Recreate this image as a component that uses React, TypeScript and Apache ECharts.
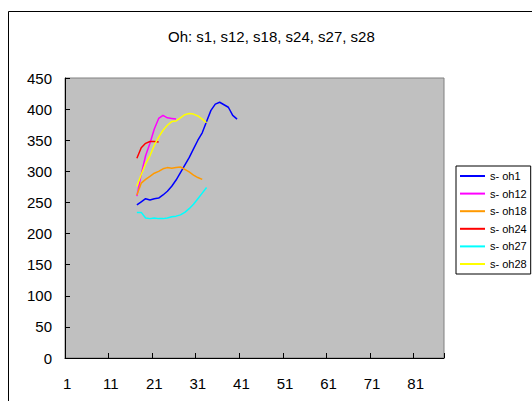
import React, { useEffect, useRef } from "react";
import * as echarts from "echarts";

const titleText = "Oh: s1, s12, s18, s24, s27, s28";
const categoryCount = 87;
const categories: string[] = Array.from({ length: categoryCount }, (_, i) => String(i + 1));
const seriesNames = ["s- oh1", "s- oh12", "s- oh18", "s- oh24", "s- oh27", "s- oh28"];
const seriesColors = ["#0000FF", "#FF00FF", "#FF9900", "#FF0000", "#00FFFF", "#FFFF00"];
const startCategory = 17;

const oh1 = [246, 251, 256, 254, 256, 257, 262, 268, 276, 286, 298, 310, 322, 336, 350, 362, 380, 398, 408, 411, 407, 403, 390, 384];
const oh12 = [260, 295, 325, 345, 368, 385, 390, 386, 385, 384];
const oh18 = [262, 281, 287, 292, 297, 300, 304, 306, 305, 306, 307, 303, 299, 294, 290, 287];
const oh24 = [321, 338, 345, 348, 348, 347];
const oh27 = [234, 234, 225, 224, 225, 224, 224, 225, 227, 228, 230, 234, 240, 247, 256, 265, 274];
const oh28 = [276, 295, 312, 325, 342, 355, 366, 374, 380, 381, 386, 391, 393, 392, 389, 384, 378];

const seriesValues = [oh1, oh12, oh18, oh24, oh27, oh28];

function pad(values: number[]): (number | null)[] {
  const out: (number | null)[] = new Array(categoryCount).fill(null);
  values.forEach((v, i) => {
    out[startCategory - 1 + i] = v;
  });
  return out;
}

const FONT = "'Liberation Sans', Arial, sans-serif";

export default function App() {
  const ref = useRef<HTMLDivElement>(null);
  useEffect(() => {
    if (!ref.current) return;
    const chart = echarts.init(ref.current, null, { renderer: "svg" });
    chart.setOption({
      animation: false,
      backgroundColor: "#FFFFFF",
      textStyle: { fontFamily: FONT },
      title: {
        text: titleText,
        left: 168,
        top: 29,
        padding: 0,
        textStyle: { fontSize: 15, fontWeight: "normal", color: "#000", fontFamily: FONT },
      },
      graphic: [
        {
          type: "rect",
          shape: { x: 8.5, y: 11.5, width: 700, height: 600 },
          style: { fill: "none", stroke: "#000", lineWidth: 1 },
          silent: true,
          z: -10,
        },
      ],
      legend: {
        orient: "vertical",
        left: 456,
        top: 166,
        padding: [3, 4, 3, 4],
        backgroundColor: "#FFFFFF",
        borderColor: "#000",
        borderWidth: 1,
        borderRadius: 0,
        itemWidth: 25,
        itemHeight: 2,
        itemGap: 3.6,
        icon: "rect",
        data: seriesNames,
        textStyle: { fontSize: 11, lineHeight: 14, color: "#000", fontFamily: FONT },
      },
      grid: {
        left: 65,
        top: 78,
        width: 379,
        height: 280,
        show: true,
        backgroundColor: "#C0C0C0",
        borderColor: "#808080",
        borderWidth: 1,
        containLabel: false,
      },
      xAxis: {
        type: "category",
        data: categories,
        boundaryGap: true,
        axisLine: { show: true, lineStyle: { color: "#000", width: 1 } },
        axisTick: { show: true, inside: true, length: 5, interval: 9, lineStyle: { color: "#000" } },
        axisLabel: { interval: 9, margin: 18, fontSize: 15, color: "#000", fontFamily: FONT },
        splitLine: { show: false },
      },
      yAxis: {
        type: "value",
        min: 0,
        max: 450,
        interval: 50,
        axisLine: { show: true, lineStyle: { color: "#000", width: 1 } },
        axisTick: { show: true, inside: true, length: 5, lineStyle: { color: "#000" } },
        axisLabel: { margin: 13, fontSize: 15, color: "#000", fontFamily: FONT },
        splitLine: { show: false },
      },
      series: seriesNames.map((name, i) => ({
        name,
        type: "line",
        data: pad(seriesValues[i]),
        showSymbol: false,
        symbol: "none",
        connectNulls: false,
        color: seriesColors[i],
        lineStyle: { color: seriesColors[i], width: 1.5 },
      })),
    });
    return () => chart.dispose();
  }, []);
  return (
    <div
      ref={ref}
      style={{ position: "fixed", left: 0, top: 0, width: 532, height: 401 }}
    />
  );
}
